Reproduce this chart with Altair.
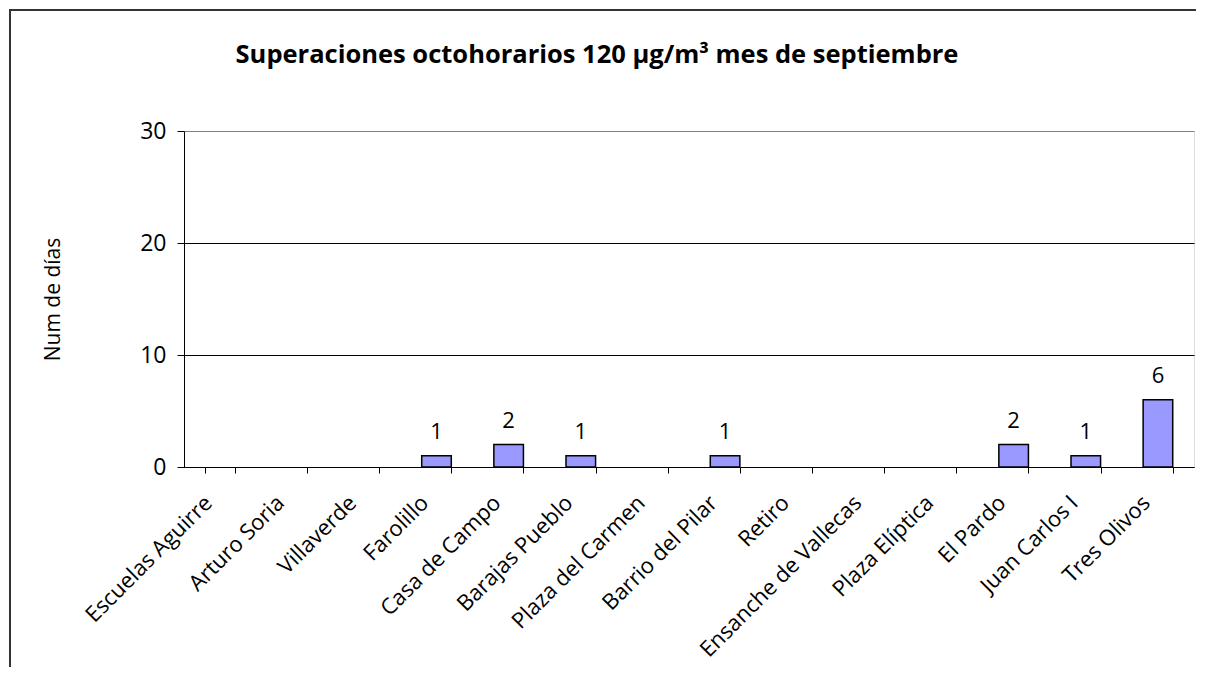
import altair as alt
import pandas as pd

estaciones = ["Escuelas Aguirre", "Arturo Soria", "Villaverde", "Farolillo", "Casa de Campo",
              "Barajas Pueblo", "Plaza del Carmen", "Barrio del Pilar", "Retiro",
              "Ensanche de Vallecas", "Plaza Elíptica", "El Pardo", "Juan Carlos I", "Tres Olivos"]
dias = [0, 0, 0, 1, 2, 1, 0, 1, 0, 0, 0, 2, 1, 6]
y_ticks = [0, 10, 20, 30]
titulo = "Superaciones octohorarios 120 µg/m³ mes de septiembre"
eje_y = "Num de días"

df = pd.DataFrame({"estacion": estaciones, "dias": dias})
FONT = "Open Sans"
W, H = 1010, 336

xenc = alt.X("estacion:N", sort=estaciones, title=None,
             scale=alt.Scale(domain=estaciones, paddingInner=0.59, paddingOuter=0.295),
             axis=alt.Axis(labelAngle=-45, labelAlign="right", labelBaseline="middle",
                           labelPadding=26, labelOffset=-12, tickBand="extent", tickSize=6,
                           tickColor="black", domainColor="black", labelColor="black",
                           labelFont=FONT, labelFontSize=22, labelLimit=0, grid=False))
yenc = alt.Y("dias:Q", title=eje_y,
             scale=alt.Scale(domain=[0, 30], nice=False),
             axis=alt.Axis(values=y_ticks, tickSize=7, tickColor="black", domainColor="black",
                           labelColor="black", labelFont=FONT, labelFontSize=23, labelPadding=11,
                           gridColor=alt.condition("datum.value == 30", alt.value("#808080"), alt.value("black")),
                           gridWidth=1,
                           titleFont=FONT, titleFontSize=21, titleFontWeight="normal",
                           titleColor="black", titleX=-131, titleY=168, titleAngle=-90,
                           titleAlign="center", titleBaseline="middle"))

bars = alt.Chart(df).mark_bar(color="#9999FF", stroke="black", strokeWidth=1.5).encode(
    x=xenc, y=yenc,
    strokeOpacity=alt.condition("datum.dias > 0", alt.value(1), alt.value(0)))
labels = alt.Chart(df).transform_filter("datum.dias > 0").mark_text(
    font=FONT, fontSize=22, color="black", baseline="alphabetic", dy=-17
).encode(x=alt.X("estacion:N", sort=estaciones), y="dias:Q", text="dias:Q")

title_df = pd.DataFrame({"t": [titulo]})
title_mark = alt.Chart(title_df).mark_text(
    font=FONT, fontSize=25.5, fontWeight="bold", color="black", baseline="alphabetic", align="center"
).encode(x=alt.value(413), y=alt.value(-68), text="t:N")

# outer chart frame (left and top edges; right and bottom lie outside the picture)
frame_df = pd.DataFrame({"k": [0]})
left_edge = alt.Chart(frame_df).mark_rect(color="#333333", strokeWidth=0).encode(
    x=alt.value(-175), x2=alt.value(-173), y=alt.value(-122), y2=alt.value(H + 200))
top_edge = alt.Chart(frame_df).mark_rect(color="#333333", strokeWidth=0).encode(
    x=alt.value(-175), x2=alt.value(W + 2), y=alt.value(-122), y2=alt.value(-120))

chart = alt.layer(left_edge, top_edge, bars, labels, title_mark).properties(
    width=W, height=H,
    autosize=alt.AutoSizeParams(type="none"),
    padding={"left": 176, "top": 123, "right": 6, "bottom": 205},
).configure_view(stroke="#808080", strokeWidth=1.5).configure(background="white")

chart.save("out.html", embed_options={"renderer": "svg", "actions": False})
